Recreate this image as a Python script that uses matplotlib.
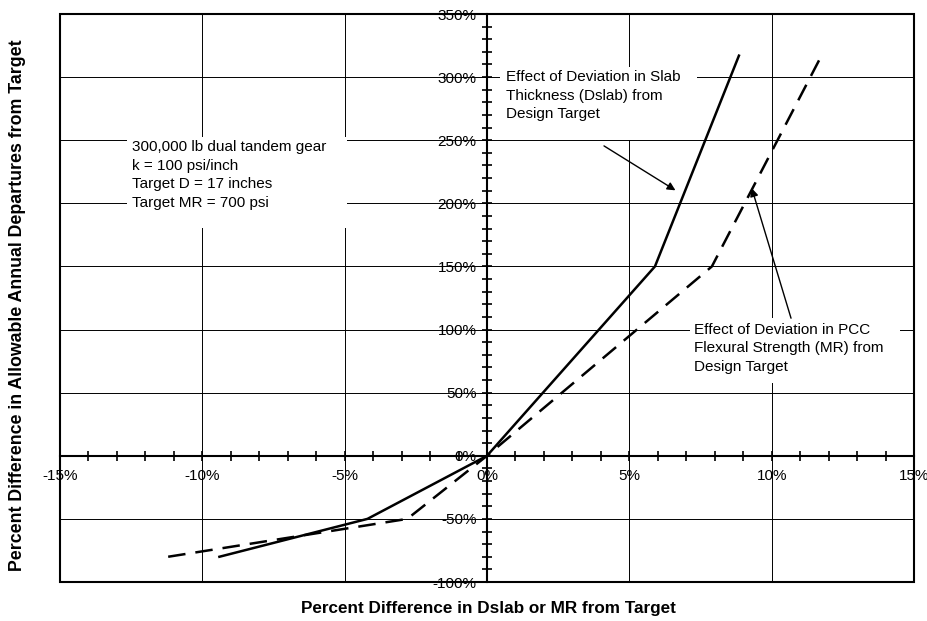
import matplotlib
matplotlib.use("Agg")
import matplotlib.pyplot as plt
from matplotlib.patches import Rectangle
from matplotlib.ticker import MultipleLocator, FuncFormatter

plt.rcParams['font.family'] = ['Liberation Sans', 'DejaVu Sans']

# Data (percent)
dslab_x = [-9.4, -4.2, 0.0, 5.9, 8.85]
dslab_y = [-80, -50, 0, 150, 317]
mr_x = [-11.2, -2.8, 0.0, 7.9, 11.75]
mr_y = [-80, -50, 0, 150, 317]

xlabel = "Percent Difference in Dslab or MR from Target"
ylabel = "Percent Difference in Allowable Annual Departures from Target"
note = "300,000 lb dual tandem gear\nk = 100 psi/inch\nTarget D = 17 inches\nTarget MR = 700 psi"
slab_label = "Effect of Deviation in Slab\nThickness (Dslab) from\nDesign Target"
mr_label = "Effect of Deviation in PCC\nFlexural Strength (MR) from\nDesign Target"

fig = plt.figure(figsize=(9.28, 6.21), dpi=100)
W, H = 928, 621
ax = fig.add_axes([60 / W, 1 - 582 / H, 854 / W, 568 / H])
ax.set_xlim(-15, 15)
ax.set_ylim(-100, 350)

# grid
ax.xaxis.set_major_locator(MultipleLocator(5))
ax.xaxis.set_minor_locator(MultipleLocator(1))
ax.yaxis.set_major_locator(MultipleLocator(50))
ax.yaxis.set_minor_locator(MultipleLocator(10))
ax.grid(True, which='major', color='black', lw=0.7, zorder=0)
ax.set_axisbelow(True)

for s in ['top', 'right']:
    ax.spines[s].set_visible(False)
ax.spines['left'].set_position(('data', 0))
ax.spines['bottom'].set_position(('data', 0))
ax.spines['left'].set_linewidth(1.5)
ax.spines['bottom'].set_linewidth(1.5)
ax.spines['left'].set_zorder(1.5)
ax.spines['bottom'].set_zorder(1.5)

fmt = FuncFormatter(lambda v, p: f"{v:.0f}%")
ax.xaxis.set_major_formatter(fmt)
ax.yaxis.set_major_formatter(fmt)
ax.tick_params(which='both', direction='inout', length=7, width=1.2, labelsize=11)
ax.tick_params(axis='x', which='major', pad=6)
ax.tick_params(axis='y', which='major', pad=4)

# outer frame
ax.add_patch(Rectangle((0, 0), 1, 1, transform=ax.transAxes, fill=False,
                       lw=1.5, ec='black', clip_on=False, zorder=3))

ax.plot(dslab_x, dslab_y, color='black', lw=1.8, zorder=4, clip_on=False)
ax.plot(mr_x, mr_y, color='black', lw=1.8, dashes=(7, 4), zorder=4, clip_on=False)

# text boxes
ax.add_patch(Rectangle((-12.64, 180.5), 7.72, 72.1, fc='white', ec='none', zorder=2))
ax.text(-12.47, 250.0, note, fontsize=11, va='top', ha='left', linespacing=1.42, zorder=5)

ax.add_patch(Rectangle((0.46, 250.5), 6.92, 57.5, fc='white', ec='none', zorder=2))
ax.text(0.67, 305.5, slab_label, fontsize=11, va='top', ha='left', linespacing=1.42, zorder=5)

ax.add_patch(Rectangle((7.13, 57.7), 7.37, 51.3, fc='white', ec='none', zorder=2))
ax.text(7.27, 105.5, mr_label, fontsize=11, va='top', ha='left', linespacing=1.42, zorder=5)

ax.annotate('', xy=(6.62, 210.3), xytext=(4.11, 245.5),
            arrowprops=dict(arrowstyle='-|>', color='black', lw=1, mutation_scale=12,
                            shrinkA=0, shrinkB=0), zorder=6)
ax.annotate('', xy=(9.3, 212), xytext=(10.68, 109),
            arrowprops=dict(arrowstyle='-|>', color='black', lw=1, mutation_scale=12,
                            shrinkA=0, shrinkB=0), zorder=6)

fig.text(488 / W, 1 - 609 / H, xlabel, ha='center', va='center', fontsize=12.3, fontweight='bold')
fig.text(18 / W, 1 - 305 / H, ylabel, ha='center', va='center', fontsize=12.8,
         fontweight='bold', rotation=90)

fig.savefig('out.png', dpi=100)
